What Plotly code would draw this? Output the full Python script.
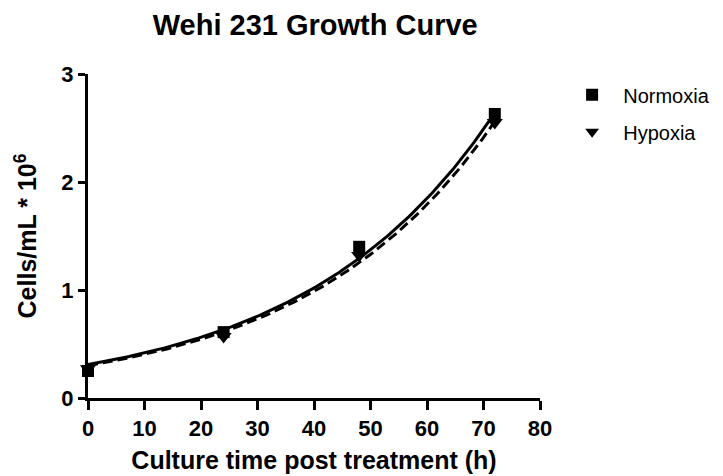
import numpy as np
import plotly.graph_objects as go

# Data
time_h = [0, 24, 48, 72]
normoxia = [0.25, 0.61, 1.40, 2.63]
hypoxia = [0.27, 0.57, 1.32, 2.55]

# Exponential growth fit parameters (Y0, k)
normoxia_fit = [0.31, 0.02975]
hypoxia_fit = [0.30, 0.02978]

x_ticks = [0, 10, 20, 30, 40, 50, 60, 70, 80]
y_ticks = [0, 1, 2, 3]

xs = np.linspace(0, 72, 200)

FONT = "Liberation Sans, Arial, sans-serif"
NB = "\u00a0"

fig = go.Figure()

fig.add_trace(go.Scatter(
    x=xs, y=normoxia_fit[0] * np.exp(normoxia_fit[1] * xs),
    mode="lines", line=dict(color="black", width=3),
    showlegend=False, hoverinfo="skip", cliponaxis=False))
fig.add_trace(go.Scatter(
    x=xs, y=hypoxia_fit[0] * np.exp(hypoxia_fit[1] * xs),
    mode="lines", line=dict(color="black", width=3, dash="10px,5px"),
    showlegend=False, hoverinfo="skip", cliponaxis=False))

fig.add_trace(go.Scatter(
    x=time_h, y=normoxia, mode="markers", name=NB * 2 + "Normoxia",
    legendgroup="n",
    marker=dict(symbol="square", size=12, color="black"), cliponaxis=False))
fig.add_trace(go.Scatter(
    x=time_h, y=hypoxia, mode="markers", name=NB * 2 + "Hypoxia",
    legendgroup="h",
    marker=dict(symbol="triangle-down", size=14, color="black"), cliponaxis=False))

fig.update_layout(
    width=723, height=476,
    margin=dict(l=88, r=183, t=74, b=78, autoexpand=False),
    paper_bgcolor="white", plot_bgcolor="white",
    font=dict(family=FONT, color="black"),
    title=dict(text="<b>Wehi 231 Growth Curve</b>", x=0.436, xanchor="center",
               y=0.947, yanchor="middle", font=dict(size=29, family=FONT)),
    legend=dict(x=1.071, xanchor="left", y=0.996, yanchor="top",
                font=dict(size=20, family=FONT),
                itemsizing="constant", tracegroupgap=8, traceorder="grouped"),
    showlegend=True,
)

fig.update_xaxes(
    range=[0, 80], tickvals=x_ticks, ticktext=[f"<b>{v}</b>" for v in x_ticks],
    showline=True, linecolor="black", linewidth=3,
    ticks="outside", ticklen=9, tickwidth=3, tickcolor="black",
    showgrid=False, zeroline=False, tickfont=dict(size=22, family=FONT),
    title=dict(text="<b>Culture time post treatment (h)</b>", font=dict(size=25, family=FONT), standoff=12),
)
fig.update_yaxes(
    range=[0, 3], tickvals=y_ticks, ticktext=[f"<b>{v}</b>" for v in y_ticks],
    showline=True, linecolor="black", linewidth=3,
    ticks="outside", ticklen=7, tickwidth=3, tickcolor="black",
    showgrid=False, zeroline=False, tickfont=dict(size=22, family=FONT),
    title=dict(text="<b>Cells/mL * 10<sup>6</sup></b>", font=dict(size=25, family=FONT), standoff=18),
)

fig.write_html("out.html")
